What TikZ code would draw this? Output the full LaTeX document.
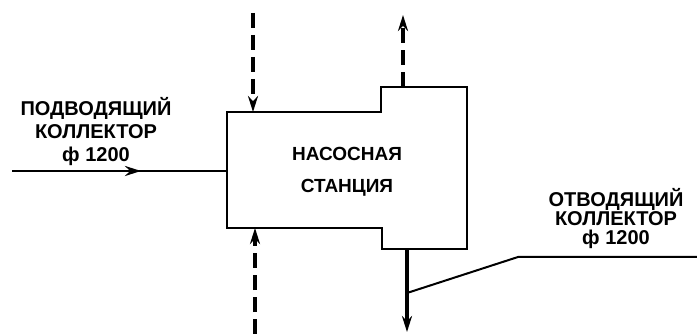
\documentclass[tikz,border=0pt]{standalone}
\usepackage{fontspec}
\setmainfont{Liberation Sans}
\usepackage{tikz}
\usetikzlibrary{arrows.meta,positioning,decorations.markings}

\begin{document}
\begin{tikzpicture}[
    x=1pt, y=-1pt,
    >={Stealth[length=16pt,width=10pt]},
    every node/.style={font=\bfseries\fontsize{20}{23}\selectfont, inner sep=0pt},
    tag/.style={align=center},
    pipe/.style={line width=2.8pt},
    dashpipe/.style={line width=3.6pt, dash pattern=on 15pt off 7pt},
    midarrow/.style={postaction={decorate},
        decoration={markings, mark=at position 0.6 with {\arrow{>}}}}
]
    \useasboundingbox (0,0) rectangle (697,334);

    % === PUMP STATION ===
    \draw[pipe] (227,112) -- (381,112) -- (381,87) -- (467,87) -- (467,249)
        -- (382,249) -- (382,228) -- (227,228) -- cycle;
    \node[tag, font=\bfseries\fontsize{19}{22}\selectfont] (station) at (347,172)
        {НАСОСНАЯ\\[10pt]СТАНЦИЯ};

    % connection points
    \coordinate (inlet) at (227,171);
    \coordinate (inletsrc) at (12,171);
    \coordinate (topin) at (253,112);
    \coordinate (topsrc) at (253,13);
    \coordinate (botin) at (255,228);
    \coordinate (botsrc) at (255,334);
    \coordinate (topout) at (403,87);
    \coordinate (topend) at (403,15);
    \coordinate (outlet) at (407,249);
    \coordinate (outletend) at (407,332);
    \coordinate (branch) at (407,293);
    \coordinate (kink) at (518,257);
    \coordinate (edge) at (697,257);

    % === INLET ===
    \draw[pipe, midarrow] (inletsrc) -- (inlet);
    \node[tag] (inname) at (96,132) {ПОДВОДЯЩИЙ\\КОЛЛЕКТОР\\ф 1200};

    % === DASHED LINES ===
    \draw[dashpipe, ->] (topsrc) -- (topin);
    \draw[dashpipe, ->] (botsrc) -- (botin);
    \draw[dashpipe, ->] (topout) -- (topend);

    % === OUTLET ===
    \draw[line width=3.6pt, ->] (outlet) -- (outletend);
    \draw[line width=2pt] (branch) -- (kink) -- (edge);
    \node[tag, font=\bfseries\fontsize{20}{19}\selectfont] (outname) at (616,219)
        {ОТВОДЯЩИЙ\\КОЛЛЕКТОР\\ф 1200};
\end{tikzpicture}
\end{document}
